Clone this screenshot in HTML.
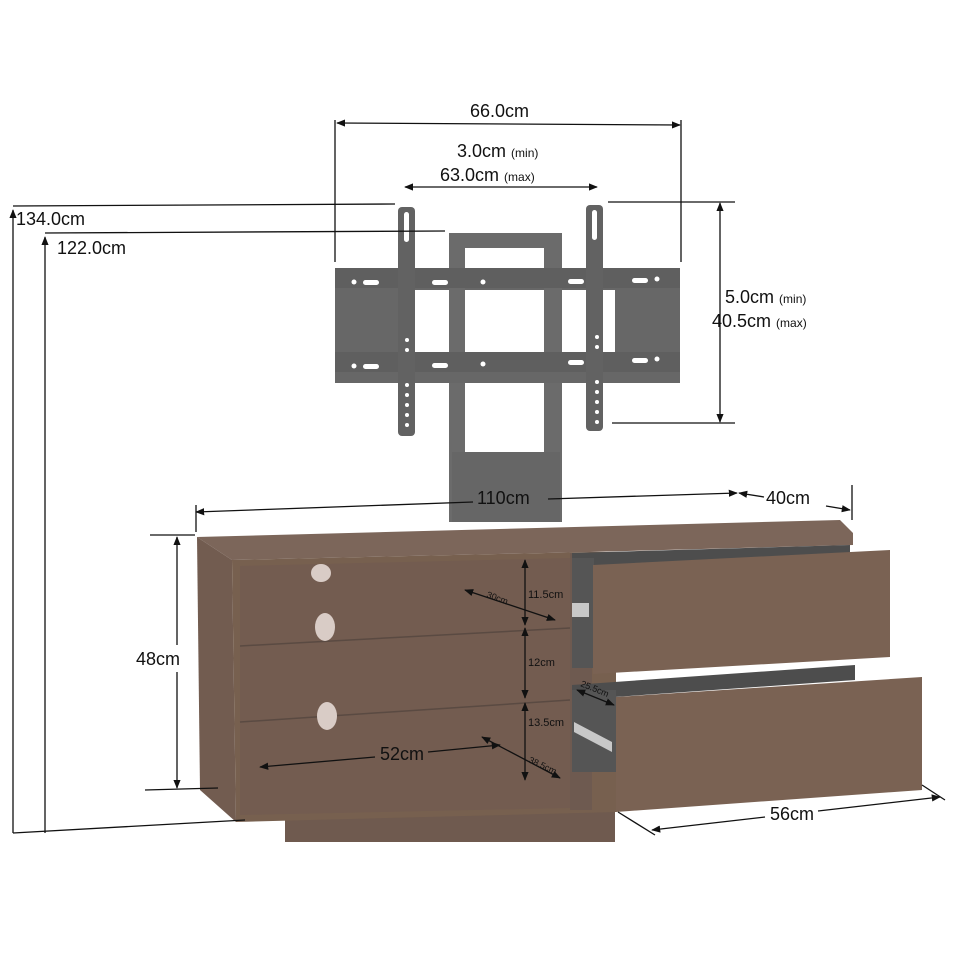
<!DOCTYPE html>
<html><head><meta charset="utf-8"><style>
html,body{margin:0;padding:0;background:#fff;width:960px;height:960px;overflow:hidden}
svg{display:block}
text{font-family:"Liberation Sans",sans-serif;fill:#111}
</style></head><body>
<svg width="960" height="960" viewBox="0 0 960 960" xmlns="http://www.w3.org/2000/svg">
<defs>
<marker id="a" viewBox="0 0 10 10" refX="9" refY="5" markerWidth="7" markerHeight="7" orient="auto-start-reverse"><path d="M0,1 L10,5 L0,9 z" fill="#111"/></marker>
</defs>
<path d="M449,233 H562 V522 H449 Z M465,248 V452 H544 V248 Z" fill="#6b6b6b" fill-rule="evenodd"/>
<rect x="452" y="452" width="108" height="70" fill="#666"/>
<path d="M335,268 H680 V383 H335 Z M398,290 V352 H615 V290 Z" fill="#676767" fill-rule="evenodd"/>
<rect x="335" y="268" width="345" height="20" fill="#5f5f5f"/>
<rect x="335" y="352" width="345" height="20" fill="#5f5f5f"/>
<rect x="449" y="288" width="16" height="64" fill="#6b6b6b"/>
<rect x="544" y="288" width="18" height="64" fill="#6b6b6b"/>
<g fill="#fff">
<circle cx="354" cy="282" r="2.5"/><rect x="363" y="280" width="16" height="5" rx="2.5"/><rect x="432" y="280" width="16" height="5" rx="2.5"/><circle cx="483" cy="282" r="2.5"/><rect x="568" y="279" width="16" height="5" rx="2.5"/><rect x="632" y="278" width="16" height="5" rx="2.5"/><circle cx="657" cy="279" r="2.5"/>
<circle cx="354" cy="366" r="2.5"/><rect x="363" y="364" width="16" height="5" rx="2.5"/><rect x="432" y="363" width="16" height="5" rx="2.5"/><circle cx="483" cy="364" r="2.5"/><rect x="568" y="360" width="16" height="5" rx="2.5"/><rect x="632" y="358" width="16" height="5" rx="2.5"/><circle cx="657" cy="359" r="2.5"/>
</g>
<rect x="398" y="207" width="17" height="229" rx="4" fill="#626262"/>
<rect x="586" y="205" width="17" height="226" rx="4" fill="#626262"/>
<g fill="#fff">
<rect x="404" y="212" width="5" height="30" rx="2.5"/><rect x="592" y="210" width="5" height="30" rx="2.5"/>
<circle cx="407" cy="340" r="2"/><circle cx="407" cy="350" r="2"/><circle cx="407" cy="385" r="2"/><circle cx="407" cy="395" r="2"/><circle cx="407" cy="405" r="2"/><circle cx="407" cy="415" r="2"/><circle cx="407" cy="425" r="2"/>
<circle cx="597" cy="337" r="2"/><circle cx="597" cy="347" r="2"/><circle cx="597" cy="382" r="2"/><circle cx="597" cy="392" r="2"/><circle cx="597" cy="402" r="2"/><circle cx="597" cy="412" r="2"/><circle cx="597" cy="422" r="2"/>
</g>
<rect x="285" y="810" width="330" height="32" fill="#6f5a4f"/>
<polygon points="197,537 840,520 853,533 853,545 590,552 232,560" fill="#7c665a"/>
<polygon points="197,537 232,560 236,822 200,790" fill="#725c50"/>
<polygon points="232,560 590,552 616,552 616,812 236,822" fill="#77604f"/>
<polygon points="240,566 570,558 570,808 240,815" fill="#735c50"/>
<g stroke="#5a4a42" stroke-width="1.5"><line x1="240" y1="646" x2="570" y2="628"/><line x1="240" y1="722" x2="570" y2="700"/></g>
<ellipse cx="321" cy="573" rx="10" ry="9" fill="#d9ccc6"/>
<ellipse cx="325" cy="627" rx="10" ry="14" fill="#d9ccc6"/>
<ellipse cx="327" cy="716" rx="10" ry="14" fill="#d9ccc6"/>
<rect x="570" y="553" width="22" height="257" fill="#6e5a50"/>
<polygon points="572,553 850,545 850,555 572,600" fill="#4d4d4d"/>
<rect x="572" y="558" width="22" height="110" fill="#555"/>
<polygon points="593,565 890,550 890,657 593,674" fill="#7a6253"/>
<polygon points="572,685 855,665 855,680 572,700" fill="#4d4d4d"/>
<rect x="572" y="690" width="44" height="82" fill="#555"/>
<polygon points="616,697 922,677 922,790 616,812" fill="#7a6253"/>
<rect x="572" y="603" width="17" height="14" fill="#c8c8c8"/>
<polygon points="574,722 612,742 612,752 574,732" fill="#c8c8c8"/>
<g stroke="#111" stroke-width="1.3" fill="none">
<line x1="337" y1="123" x2="680" y2="125" marker-start="url(#a)" marker-end="url(#a)"/>
<line x1="335" y1="120" x2="335" y2="262"/><line x1="681" y1="120" x2="681" y2="262"/>
<line x1="405" y1="187" x2="597" y2="187" marker-start="url(#a)" marker-end="url(#a)"/>
<line x1="720" y1="203" x2="720" y2="422" marker-start="url(#a)" marker-end="url(#a)"/>
<line x1="608" y1="202" x2="735" y2="202"/><line x1="612" y1="423" x2="735" y2="423"/>
<line x1="13" y1="210" x2="13" y2="833" marker-start="url(#a)"/>
<line x1="13" y1="206" x2="395" y2="204"/>
<line x1="45" y1="237" x2="45" y2="833" marker-start="url(#a)"/>
<line x1="45" y1="233" x2="445" y2="231"/>
<line x1="13" y1="833" x2="245" y2="820"/>
<line x1="196" y1="512" x2="473" y2="502" marker-start="url(#a)"/>
<line x1="548" y1="499" x2="737" y2="493" marker-end="url(#a)"/>
<line x1="196" y1="505" x2="196" y2="532"/>
<line x1="739" y1="493" x2="764" y2="497" marker-start="url(#a)"/>
<line x1="826" y1="506" x2="850" y2="510" marker-end="url(#a)"/>
<line x1="852" y1="485" x2="852" y2="520"/>
<line x1="177" y1="537" x2="177" y2="645" marker-start="url(#a)"/>
<line x1="177" y1="672" x2="177" y2="788" marker-end="url(#a)"/>
<line x1="150" y1="535" x2="195" y2="535"/><line x1="145" y1="790" x2="218" y2="788"/>
<line x1="525" y1="560" x2="525" y2="625" marker-start="url(#a)" marker-end="url(#a)"/>
<line x1="525" y1="628" x2="525" y2="698" marker-start="url(#a)" marker-end="url(#a)"/>
<line x1="525" y1="703" x2="525" y2="780" marker-start="url(#a)" marker-end="url(#a)"/>
<line x1="465" y1="590" x2="555" y2="620" marker-start="url(#a)" marker-end="url(#a)"/>
<line x1="482" y1="737" x2="560" y2="778" marker-start="url(#a)" marker-end="url(#a)"/>
<line x1="260" y1="767" x2="375" y2="757" marker-start="url(#a)"/>
<line x1="428" y1="752" x2="500" y2="745" marker-end="url(#a)"/>
<line x1="577" y1="690" x2="614" y2="705" marker-start="url(#a)" marker-end="url(#a)"/>
<line x1="652" y1="830" x2="765" y2="817" marker-start="url(#a)"/>
<line x1="818" y1="811" x2="940" y2="797" marker-end="url(#a)"/>
<line x1="618" y1="812" x2="655" y2="835"/><line x1="922" y1="785" x2="945" y2="800"/>
</g>
<text x="470" y="117" font-size="18">66.0cm</text>
<text x="457" y="157" font-size="18">3.0cm <tspan font-size="12">(min)</tspan></text>
<text x="440" y="181" font-size="18">63.0cm <tspan font-size="12">(max)</tspan></text>
<text x="725" y="303" font-size="18">5.0cm <tspan font-size="12">(min)</tspan></text>
<text x="712" y="327" font-size="18">40.5cm <tspan font-size="12">(max)</tspan></text>
<text x="16" y="225" font-size="18">134.0cm</text>
<text x="57" y="254" font-size="18">122.0cm</text>
<text x="477" y="504" font-size="18">110cm</text>
<text x="766" y="504" font-size="18">40cm</text>
<text x="136" y="665" font-size="18">48cm</text>
<text x="528" y="598" font-size="11">11.5cm</text>
<text x="528" y="666" font-size="11">12cm</text>
<text x="528" y="726" font-size="11">13.5cm</text>
<text x="486" y="597" font-size="9" transform="rotate(20 486 597)">30cm</text>
<text x="528" y="762" font-size="9" transform="rotate(25 528 762)">38.5cm</text>
<text x="580" y="686" font-size="9" transform="rotate(22 580 686)">25.5cm</text>
<text x="380" y="760" font-size="18">52cm</text>
<text x="770" y="820" font-size="18">56cm</text>
</svg>
</body></html>
